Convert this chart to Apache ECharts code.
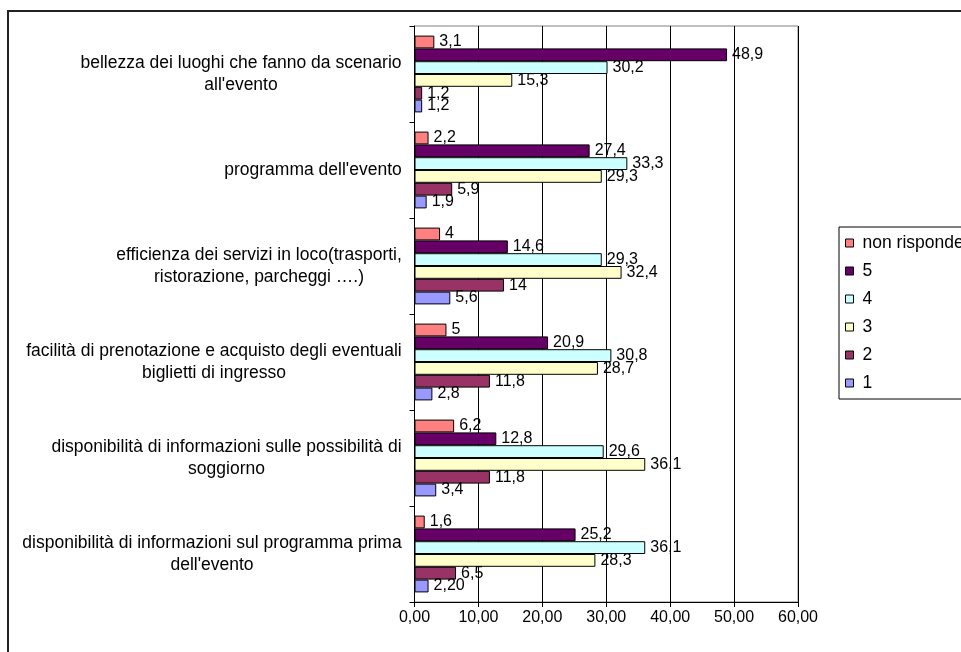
<!DOCTYPE html>
<html>
<head>
<meta charset="utf-8">
<script src="https://cdn.jsdelivr.net/npm/echarts@6/dist/echarts.min.js"></script>
<style>
html,body{margin:0;padding:0;background:#fff;}
#chart{width:961px;height:652px;}
</style>
</head>
<body>
<div id="chart"></div>
<script>
// Categories, bottom to top
var categories = [
  "disponibilità di informazioni sul programma prima\ndell'evento",
  "disponibilità di informazioni sulle possibilità di\nsoggiorno",
  "facilità di prenotazione e acquisto degli eventuali\nbiglietti di ingresso",
  "efficienza dei servizi in loco(trasporti,\nristorazione, parcheggi ….)",
  "programma dell'evento",
  "bellezza dei luoghi che fanno da scenario\nall'evento"
];
var seriesNames = ["non risponde", "5", "4", "3", "2", "1"];
var valuesNR = [1.6, 6.2, 5, 4, 2.2, 3.1];
var values5  = [25.2, 12.8, 20.9, 14.6, 27.4, 48.9];
var values4  = [36.1, 29.6, 30.8, 29.3, 33.3, 30.2];
var values3  = [28.3, 36.1, 28.7, 32.4, 29.3, 15.3];
var values2  = [6.5, 11.8, 11.8, 14, 5.9, 1.2];
var values1  = [2.2, 3.4, 2.8, 5.6, 1.9, 1.2];
var labelsNR = ["1,6", "6,2", "5", "4", "2,2", "3,1"];
var labels5  = ["25,2", "12,8", "20,9", "14,6", "27,4", "48,9"];
var labels4  = ["36,1", "29,6", "30,8", "29,3", "33,3", "30,2"];
var labels3  = ["28,3", "36,1", "28,7", "32,4", "29,3", "15,3"];
var labels2  = ["6,5", "11,8", "11,8", "14", "5,9", "1,2"];
var labels1  = ["2,20", "3,4", "2,8", "5,6", "1,9", "1,2"];
var xTicks = [0, 10, 20, 30, 40, 50, 60];
var colors = ["#FF8080", "#660066", "#CCFFFF", "#FFFFCC", "#993366", "#9999FF"];

var FONT = '"Liberation Sans", Arial, sans-serif';
var FS = 16;
var FS_CAT = 17.5;

// measure widest line per category for centered multi-line labels
var cv = document.createElement('canvas').getContext('2d');
cv.font = FS_CAT + 'px ' + FONT;
var rich = {};
categories.forEach(function (c, i) {
  var w = 0;
  c.split('\n').forEach(function (l) { w = Math.max(w, cv.measureText(l).width); });
  rich['c' + i] = { width: Math.ceil(w) + 1, align: 'center', fontSize: FS_CAT, lineHeight: 22, fontFamily: FONT, color: '#000' };
});

var allValues = [valuesNR, values5, values4, values3, values2, values1];
var allLabels = [labelsNR, labels5, labels4, labels3, labels2, labels1];

var series = seriesNames.map(function (name, s) {
  return {
    name: name,
    type: 'bar',
    barGap: '0%',
    barCategoryGap: '20%',
    data: allValues[s],
    itemStyle: { color: colors[s], borderColor: '#000', borderWidth: 1 },
    label: {
      show: true,
      position: 'right',
      distance: 5,
      color: '#000',
      fontSize: FS,
      fontFamily: FONT,
      formatter: function (p) { return allLabels[s][p.dataIndex]; }
    }
  };
});

var chart = echarts.init(document.getElementById('chart'), null, { renderer: 'canvas' });
chart.setOption({
  animation: false,
  backgroundColor: '#fff',
  textStyle: { fontFamily: FONT },
  graphic: [{
    type: 'rect',
    shape: { x: 8, y: 11, width: 1000, height: 700 },
    style: { fill: 'none', stroke: '#222', lineWidth: 2 },
    silent: true
  }],
  legend: {
    orient: 'vertical',
    left: 839,
    top: 227,
    data: seriesNames,
    icon: 'rect',
    itemWidth: 8,
    itemHeight: 8,
    itemGap: 10,
    padding: [7, 10, 7, 6],
    borderColor: '#000',
    borderWidth: 1,
    itemStyle: { borderColor: '#000', borderWidth: 1 },
    textStyle: { fontSize: FS_CAT, lineHeight: 18, fontFamily: FONT, color: '#000', padding: [0, 0, 0, 4] }
  },
  grid: {
    left: 414.5,
    right: 163,
    top: 26,
    bottom: 50,
    show: true,
    borderColor: '#808080',
    borderWidth: 1,
    containLabel: false
  },
  xAxis: {
    type: 'value',
    min: xTicks[0],
    max: xTicks[xTicks.length - 1],
    interval: 10,
    axisLine: { show: true, lineStyle: { color: '#000' } },
    axisTick: { show: true, length: 5, lineStyle: { color: '#000' } },
    splitLine: { show: true, lineStyle: { color: '#000', width: 1 } },
    axisLabel: {
      fontSize: FS, fontFamily: FONT, color: '#000', margin: 8,
      formatter: function (v) { return v.toFixed(2).replace('.', ','); }
    }
  },
  yAxis: {
    type: 'category',
    data: categories,
    axisLine: { show: true, lineStyle: { color: '#000' } },
    axisTick: { show: true, length: 5, lineStyle: { color: '#000' } },
    axisLabel: {
      margin: 12,
      fontSize: FS_CAT,
      fontFamily: FONT,
      color: '#000',
      lineHeight: 22,
      formatter: function (v, i) {
        return v.split('\n').map(function (l) { return '{c' + i + '|' + l + '}'; }).join('\n');
      },
      rich: rich
    }
  },
  series: series
});
</script>
</body>
</html>
